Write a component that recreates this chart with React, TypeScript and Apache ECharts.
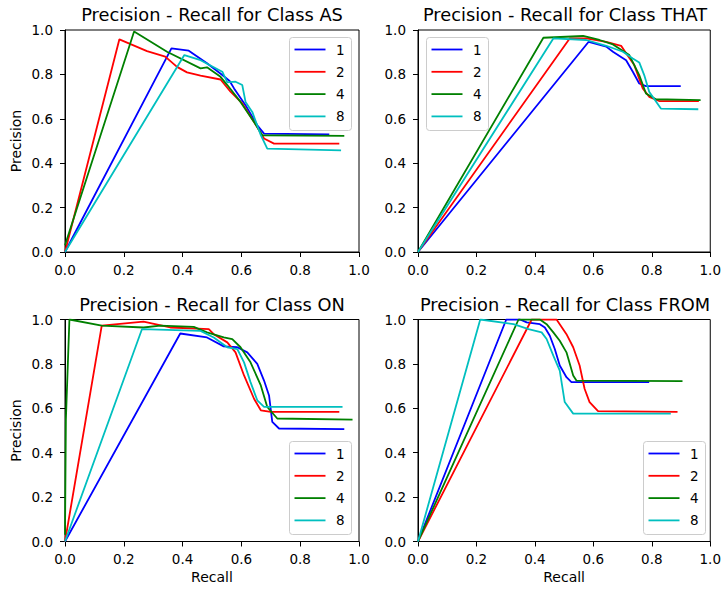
import React, { useEffect, useRef } from "react";
import * as echarts from "echarts";

// ---- data: [recall, precision] pairs ----
const SERIES_NAMES = ["1", "2", "4", "8"];
const COLORS = ["#0000ff", "#ff0000", "#008000", "#00bfbf"];
const TITLES = [
  "Precision - Recall for Class AS",
  "Precision - Recall for Class THAT",
  "Precision - Recall for Class ON",
  "Precision - Recall for Class FROM",
];

const AS_1 = [[0, 0], [0.362, 0.917], [0.421, 0.907], [0.483, 0.85], [0.535, 0.797], [0.56, 0.77], [0.575, 0.737], [0.614, 0.661], [0.654, 0.571], [0.677, 0.533], [0.899, 0.53]];
const AS_2 = [[0, 0], [0.185, 0.958], [0.279, 0.905], [0.341, 0.88], [0.381, 0.834], [0.415, 0.809], [0.461, 0.794], [0.529, 0.777], [0.563, 0.722], [0.603, 0.669], [0.643, 0.586], [0.677, 0.511], [0.711, 0.488], [0.933, 0.488]];
const AS_4 = [[0, 0.03], [0.235, 0.993], [0.347, 0.902], [0.461, 0.827], [0.483, 0.832], [0.529, 0.789], [0.552, 0.752], [0.597, 0.676], [0.643, 0.586], [0.671, 0.526], [0.95, 0.523]];
const AS_8 = [[0, 0], [0.406, 0.887], [0.461, 0.864], [0.535, 0.812], [0.552, 0.764], [0.58, 0.767], [0.603, 0.752], [0.614, 0.676], [0.637, 0.631], [0.666, 0.526], [0.688, 0.466], [0.939, 0.458]];

const THAT_1 = [[0, 0], [0.584, 0.947], [0.644, 0.925], [0.667, 0.902], [0.712, 0.864], [0.735, 0.812], [0.757, 0.759], [0.78, 0.747], [0.899, 0.747]];
const THAT_2 = [[0, 0], [0.519, 0.962], [0.576, 0.962], [0.644, 0.947], [0.695, 0.929], [0.712, 0.895], [0.74, 0.842], [0.769, 0.737], [0.791, 0.699], [0.825, 0.68], [0.961, 0.68]];
const THAT_4 = [[0, 0], [0.429, 0.965], [0.565, 0.973], [0.621, 0.955], [0.667, 0.935], [0.723, 0.887], [0.757, 0.797], [0.78, 0.714], [0.814, 0.688], [0.967, 0.684]];
const THAT_8 = [[0, 0], [0.463, 0.962], [0.576, 0.955], [0.644, 0.929], [0.701, 0.902], [0.735, 0.872], [0.757, 0.854], [0.774, 0.797], [0.791, 0.722], [0.831, 0.646], [0.959, 0.643]];

const ON_1 = [[0, 0], [0.392, 0.937], [0.483, 0.919], [0.54, 0.879], [0.586, 0.875], [0.62, 0.852], [0.654, 0.8], [0.677, 0.725], [0.694, 0.658], [0.705, 0.539], [0.728, 0.509], [0.95, 0.506]];
const ON_2 = [[0, 0], [0.125, 0.972], [0.267, 0.99], [0.358, 0.964], [0.489, 0.957], [0.506, 0.934], [0.552, 0.897], [0.58, 0.852], [0.609, 0.748], [0.643, 0.643], [0.666, 0.591], [0.7, 0.584], [0.933, 0.584]];
const ON_4 = [[0, 0.03], [0.003, 0.55], [0.015, 1.0], [0.125, 0.972], [0.267, 0.964], [0.324, 0.972], [0.438, 0.967], [0.483, 0.942], [0.54, 0.919], [0.569, 0.912], [0.597, 0.875], [0.631, 0.807], [0.666, 0.703], [0.688, 0.606], [0.722, 0.554], [0.978, 0.549]];
const ON_8 = [[0, 0], [0.262, 0.957], [0.461, 0.949], [0.506, 0.919], [0.552, 0.875], [0.586, 0.867], [0.609, 0.807], [0.631, 0.718], [0.654, 0.636], [0.677, 0.606], [0.944, 0.606]];

const FROM_1 = [[0, 0], [0.302, 1.0], [0.349, 1.0], [0.372, 0.987], [0.417, 0.979], [0.434, 0.964], [0.451, 0.927], [0.468, 0.867], [0.485, 0.793], [0.508, 0.74], [0.525, 0.718], [0.791, 0.718]];
const FROM_2 = [[0, 0], [0.389, 1.0], [0.474, 1.0], [0.508, 0.934], [0.531, 0.875], [0.553, 0.793], [0.57, 0.688], [0.587, 0.628], [0.616, 0.587], [0.888, 0.584]];
const FROM_4 = [[0, 0], [0.344, 1.0], [0.417, 1.0], [0.44, 0.979], [0.463, 0.942], [0.485, 0.904], [0.508, 0.852], [0.531, 0.748], [0.542, 0.725], [0.905, 0.722]];
const FROM_8 = [[0, 0], [0.213, 1.0], [0.327, 0.979], [0.378, 0.957], [0.423, 0.942], [0.44, 0.912], [0.463, 0.837], [0.485, 0.77], [0.502, 0.628], [0.531, 0.576], [0.865, 0.576]];

const PANEL_DATA = [
  [AS_1, AS_2, AS_4, AS_8],
  [THAT_1, THAT_2, THAT_4, THAT_8],
  [ON_1, ON_2, ON_4, ON_8],
  [FROM_1, FROM_2, FROM_4, FROM_8],
];

// ---- layout ----
const FONT = "DejaVu Sans";
const GRIDS = [
  { left: 65, top: 30, width: 294, height: 222 },
  { left: 418, top: 30, width: 294, height: 222 },
  { left: 65, top: 319.5, width: 294, height: 222 },
  { left: 418, top: 319.5, width: 294, height: 222 },
];
const LEGEND_POS = [
  [289, 37],
  [426, 37],
  [289, 441],
  [643, 441],
];

function buildLegend(x: number, y: number) {
  const children: any[] = [
    {
      type: "rect",
      shape: { x: 0.5, y: 0.5, width: 62, height: 93, r: 3 },
      style: { fill: "rgba(255,255,255,0.8)", stroke: "#cccccc", lineWidth: 1 },
    },
  ];
  SERIES_NAMES.forEach((name, i) => {
    const cy = 12.5 + 22.3 * i;
    children.push({
      type: "line",
      shape: { x1: 5.5, y1: cy, x2: 36.5, y2: cy },
      style: { stroke: COLORS[i], lineWidth: 1.8 },
    });
    children.push({
      type: "text",
      x: 47,
      y: cy,
      style: {
        text: name,
        fill: "#000",
        font: `13.5px "${FONT}"`,
        textVerticalAlign: "middle",
        verticalAlign: "middle",
      },
    });
  });
  return { type: "group", x, y, z: 100, children };
}

export default function App() {
  const ref = useRef<HTMLDivElement>(null);
  useEffect(() => {
    if (!ref.current) return;
    const chart = echarts.init(ref.current, undefined, { renderer: "svg" });
    const axisCommon = (gi: number) => ({
      type: "value",
      gridIndex: gi,
      min: 0,
      max: 1,
      interval: 0.2,
      axisLine: { show: true, onZero: false, lineStyle: { color: "#000", width: 1 } },
      axisTick: { show: true, inside: false, length: 5, lineStyle: { color: "#000", width: 1 } },
      splitLine: { show: false },
      axisLabel: {
        fontSize: 13.5,
        fontFamily: FONT,
        color: "#000",
        formatter: (v: number) => v.toFixed(1),
        showMinLabel: true,
        showMaxLabel: true,
      },
      nameLocation: "middle",
      nameTextStyle: { fontSize: 14, fontFamily: FONT, color: "#000" },
    });
    const xAxis = GRIDS.map((_, i) => {
      const a: any = axisCommon(i);
      a.axisLabel.margin = 10.5;
      if (i >= 2) {
        a.name = "Recall";
        a.nameGap = 28.5;
      }
      return a;
    });
    const yAxis = GRIDS.map((_, i) => {
      const a: any = axisCommon(i);
      a.axisLabel.margin = 12;
      if (i % 2 === 0) {
        a.name = "Precision";
        a.nameGap = 42;
      }
      return a;
    });
    const series: any[] = [];
    PANEL_DATA.forEach((panel, pi) => {
      panel.forEach((pts, si) => {
        series.push({
          type: "line",
          name: SERIES_NAMES[si],
          xAxisIndex: pi,
          yAxisIndex: pi,
          data: pts,
          symbol: "none",
          showSymbol: false,
          lineStyle: { color: COLORS[si], width: 1.8 },
          itemStyle: { color: COLORS[si] },
          z: 2 + si,
        });
      });
    });
    const graphic: any[] = [];
    TITLES.forEach((t, i) => {
      const g = GRIDS[i];
      graphic.push({
        type: "text",
        x: g.left + g.width / 2,
        y: g.top - 15.2,
        style: {
          text: t,
          fill: "#000",
          font: `17.8px "${FONT}"`,
          textAlign: "center",
          align: "center",
          textVerticalAlign: "middle",
          verticalAlign: "middle",
        },
      });
    });
    LEGEND_POS.forEach(([x, y]) => graphic.push(buildLegend(x, y)));

    chart.setOption({
      animation: false,
      backgroundColor: "#fff",
      textStyle: { fontFamily: FONT },
      grid: GRIDS.map((g) => ({
        ...g,
        show: true,
        borderColor: "#000",
        borderWidth: 1,
        backgroundColor: "transparent",
        containLabel: false,
      })),
      xAxis,
      yAxis,
      series,
      graphic,
    });
    return () => chart.dispose();
  }, []);
  return (
    <div
      ref={ref}
      style={{ position: "absolute", left: 0, top: 0, width: 724, height: 592 }}
    />
  );
}
